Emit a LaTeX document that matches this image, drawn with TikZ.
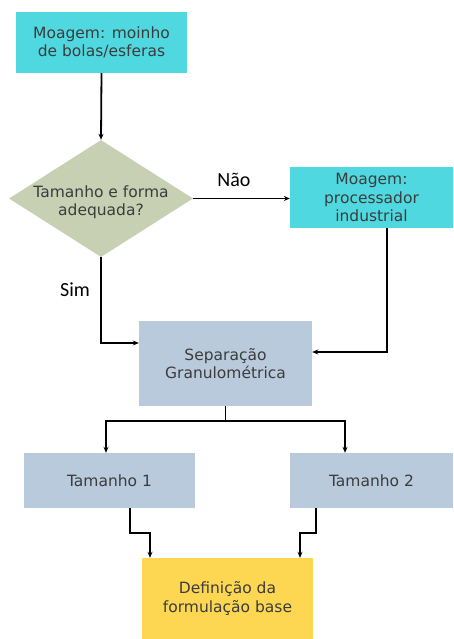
\documentclass[tikz,border=0pt]{standalone}
\usepackage{fontspec}
\setmainfont{DejaVu Sans}
\newfontfamily\lblfont{Carlito}
\usetikzlibrary{shapes.geometric,arrows.meta}
\definecolor{cyanbox}{RGB}{80,216,224}
\definecolor{greenbox}{RGB}{200,208,180}
\definecolor{bluebox}{RGB}{185,202,220}
\definecolor{yellowbox}{RGB}{253,215,82}
\definecolor{txt}{RGB}{60,60,60}
\tikzset{
  box/.style={rectangle, inner sep=0pt, align=center, text=txt, font=\fontsize{15.5}{18.5}\selectfont},
  arr/.style={draw=black, line width=1.8pt, -{Stealth[length=6pt,width=5pt]}},
  lbl/.style={font=\lblfont\fontsize{20}{22}\selectfont, text=black}
}
\begin{document}
\begin{tikzpicture}[x=1pt,y=-1pt]
\useasboundingbox (0,0) rectangle (453,639);
\node[box, fill=cyanbox, minimum width=171pt, minimum height=61pt] (b1) at (101.5,42.5) {Moagem: moinho\\de bolas/esferas};
\node[diamond, fill=greenbox, inner sep=0pt, minimum width=184pt, minimum height=117pt, aspect=1.57] (d) at (101,198.5) {};
\node[box] (dt) at (101,202) {Tamanho e forma\\adequada?};
\node[box, fill=cyanbox, minimum width=163pt, minimum height=61pt] (b2) at (371.5,197.5) {Moagem:\\processador\\industrial};
\node[box, fill=bluebox, minimum width=173pt, minimum height=85pt] (sep) at (225.5,363.5) {Separação\\Granulométrica};
\node[box, fill=bluebox, minimum width=171pt, minimum height=55pt] (t1) at (109.5,480.5) {Tamanho 1};
\node[box, fill=bluebox, minimum width=163pt, minimum height=55pt] (t2) at (371.5,480.5) {Tamanho 2};
\node[box, fill=yellowbox, minimum width=171pt, minimum height=81pt] (y) at (227.5,598.5) {Definição da\\formulação base};
\node[lbl] (nao) at (234,180) {Não};
\node[lbl] (sim) at (75,290) {Sim};
\draw[arr] (b1.south) -- (d.north);
\draw[arr] (d.east) -- (d.east -| b2.west);
\draw[arr] (d.south) |- ([yshift=20.5pt]sep.west);
\draw[arr] ([xshift=15.5pt]b2.south) |- ([yshift=11.5pt]sep.east);
\draw[arr] (sep.south) -- ++(0,15) -| ([xshift=-3.5pt]t1.north);
\draw[arr] (sep.south) -- ++(0,15) -| ([xshift=-26.5pt]t2.north);
\draw[arr] ([xshift=20.5pt]t1.south) -- ++(0,25) -| ([xshift=-77.5pt]y.north);
\draw[arr] ([xshift=-55.5pt]t2.south) -- ++(0,25) -| ([xshift=72.5pt]y.north);
\end{tikzpicture}
\end{document}
